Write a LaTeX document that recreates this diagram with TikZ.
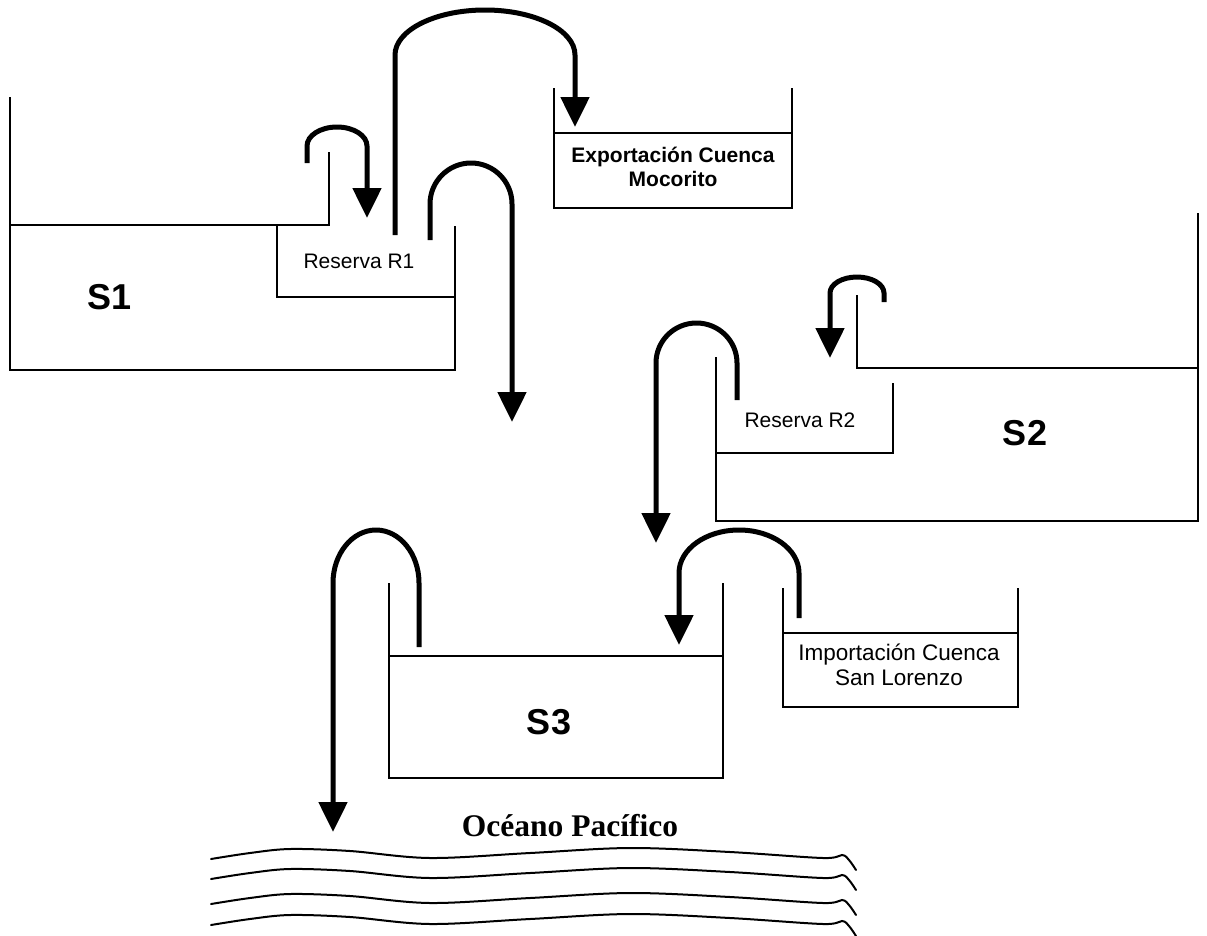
\documentclass[tikz,border=0pt]{standalone}
\usepackage{fontspec}
\setmainfont{Liberation Sans}
\newfontfamily\oceanfont{Liberation Serif}
\usetikzlibrary{arrows.meta}
\begin{document}
\begin{tikzpicture}[x=1pt,y=-1pt,
  wall/.style={line width=2.2pt, line join=miter},
  flow/.style={line width=5pt, -{Triangle[width=28pt,length=30pt]}},
  wave/.style={line width=2pt, line cap=round},
  tanklbl/.style={font=\fontsize{36}{40}\selectfont\bfseries},
  reslbl/.style={font=\fontsize{21}{24}\selectfont},
  basinlbl/.style={align=center, font=\fontsize{22.5}{25}\selectfont},
  sealbl/.style={font=\oceanfont\fontsize{31.5}{36}\selectfont\bfseries}]

\useasboundingbox (0,0) rectangle (1207,935);

% ---------- S1 with reserve R1 ----------
\draw[wall] (10,97) -- (10,370) -- (455,370) -- (455,226);
\draw[wall] (10,225) -- (329,225) -- (329,152);
\draw[wall] (277,225) -- (277,297) -- (455,297);
\node[tanklbl] (s1) at (110,297) {S1};
\node[reslbl] (r1) at (359,261) {Reserva R1};

% ---------- export basin ----------
\draw[wall] (554,88) -- (554,208) -- (792,208) -- (792,88);
\draw[wall] (554,133) -- (792,133);
\node[basinlbl, font=\fontsize{21}{24}\selectfont\bfseries] (exp) at (673,167) {Exportación Cuenca\\Mocorito};

% ---------- S2 with reserve R2 ----------
\draw[wall] (1198,213) -- (1198,521) -- (716,521) -- (716,357);
\draw[wall] (857,295) -- (857,368) -- (1198,368);
\draw[wall] (716,453) -- (893,453) -- (893,383);
\node[tanklbl] (s2) at (1025,433) {S2};
\node[reslbl] (r2) at (800,420) {Reserva R2};

% ---------- S3 ----------
\draw[wall] (389,583) -- (389,778) -- (723,778) -- (723,583);
\draw[wall] (389,656) -- (723,656);
\node[tanklbl] (s3) at (549,722) {S3};

% ---------- import basin ----------
\draw[wall] (783,588) -- (783,707) -- (1018,707) -- (1018,588);
\draw[wall] (783,633) -- (1018,633);
\node[basinlbl] (imp) at (899,665) {Importación Cuenca\\San Lorenzo};

% ---------- ocean ----------
\node[sealbl] (sea) at (570,826) {Océano Pacífico};
\foreach \y in {859,879,904,925}
  \draw[wave] plot[smooth, tension=0.55] coordinates {
    (211,\y) (250,{\y-6}) (290,{\y-10}) (350,{\y-8}) (430,{\y-1})
    (530,{\y-6}) (630,{\y-11}) (730,{\y-7}) (823,{\y-1})
    (842,{\y-4}) (849,{\y+1}) (856,{\y+11})};

% ---------- flow end points ----------
\coordinate (r1inA) at (307,163);  \coordinate (r1inB) at (367,218);
\coordinate (expA)  at (395,235);  \coordinate (expB)  at (575,127);
\coordinate (r1outA) at (430,240); \coordinate (r1outB) at (512,422);
\coordinate (r2inA) at (884,302);  \coordinate (r2inB) at (830,358);
\coordinate (r2outA) at (737,400); \coordinate (r2outB) at (656,543);
\coordinate (impA)  at (799,618);  \coordinate (impB)  at (679,645);
\coordinate (s3outA) at (419,647); \coordinate (s3outB) at (333,832);

% ---------- flows ----------
\draw[flow] (r1inA) -- (307,146)
  arc[start angle=180, end angle=360, x radius=30, y radius=19] -- (r1inB);
\draw[flow] (expA) -- (395,55)
  arc[start angle=180, end angle=360, x radius=90, y radius=45] -- (expB);
\draw[flow] (r1outA) -- (430,204)
  arc[start angle=180, end angle=360, x radius=41, y radius=41] -- (r1outB);
\draw[flow] (r2inA) -- (884,293)
  arc[start angle=360, end angle=180, x radius=27, y radius=16] -- (r2inB);
\draw[flow] (r2outA) -- (737,363)
  arc[start angle=360, end angle=180, x radius=40.5, y radius=40] -- (r2outB);
\draw[flow] (impA) -- (799,573)
  arc[start angle=360, end angle=180, x radius=60, y radius=43] -- (impB);
\draw[flow] (s3outA) -- (419,583)
  arc[start angle=360, end angle=180, x radius=43, y radius=53] -- (s3outB);
\end{tikzpicture}
\end{document}
